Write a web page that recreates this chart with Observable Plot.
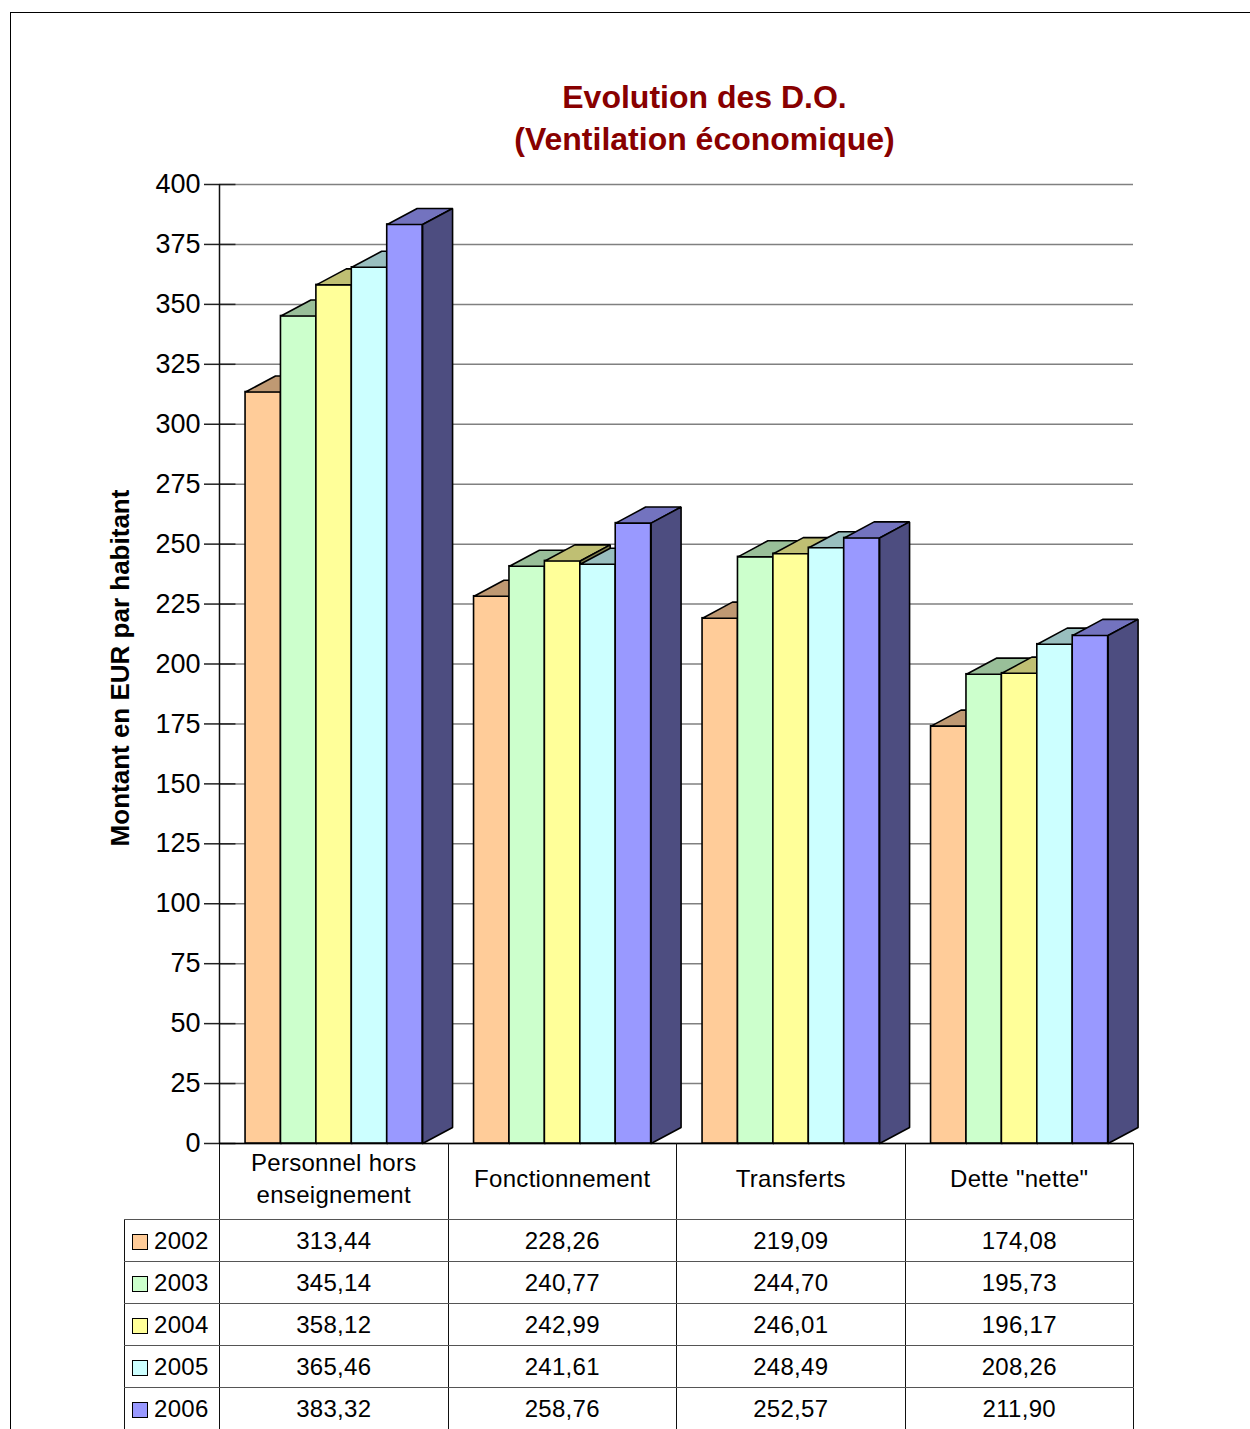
<!DOCTYPE html>
<html>
<head>
<meta charset="utf-8">
<script src="https://cdn.jsdelivr.net/npm/d3@7"></script>
<script src="https://cdn.jsdelivr.net/npm/@observablehq/plot@0.6"></script>
<style>
  body { margin: 0; background: #fff; font-family: "Liberation Sans", Arial, sans-serif; }
  #page { position: relative; width: 1250px; height: 1429px; overflow: hidden; background: #fff; }
  #border { position: absolute; left: 10px; top: 12px; width: 1250px; height: 1430px;
            border-left: 1.5px solid #000; border-top: 1.5px solid #000; }
  #chart { position: absolute; left: 0; top: 0; }
  #datatable { position: absolute; left: 124px; top: 1143px; border-collapse: collapse;
               table-layout: fixed; font-size: 24px; letter-spacing: 0.3px; color: #000; }
  #datatable td { padding: 0; text-align: center; vertical-align: middle; white-space: normal;
                  border-left: 1.5px solid #111; border-right: 1.5px solid #111;
                  border-top: 1.5px solid #555; border-bottom: 1.5px solid #555; }
  #datatable tr.head td { height: 70px; padding-bottom: 5px; line-height: 32px; border-top: 1.5px solid #000; }
  #datatable tr.head td.corner { border: none; }
  #datatable tr.row td { height: 40px; line-height: 28px; padding-top: 1px; }
  #datatable td.year { text-align: left; padding-left: 7px; }
  .swatch { display: inline-block; width: 14px; height: 14px; border: 1px solid #000;
            margin-right: 6px; vertical-align: -1px; }
</style>
</head>
<body>
<div id="page">
  <div id="border"></div>
  <div id="chart"></div>
  <table id="datatable"></table>
</div>
<script>
// Dépenses ordinaires par habitant (EUR), ventilation économique
const categories = ["Personnel hors enseignement", "Fonctionnement", "Transferts", "Dette \"nette\""];
const years = ["2002", "2003", "2004", "2005", "2006"];
const v2002 = [313.44, 228.26, 219.09, 174.08];
const v2003 = [345.14, 240.77, 244.70, 195.73];
const v2004 = [358.12, 242.99, 246.01, 196.17];
const v2005 = [365.46, 241.61, 248.49, 208.26];
const v2006 = [383.32, 258.76, 252.57, 211.90];
const yearColors = ["#FFCC99", "#CCFFCC", "#FFFF99", "#CCFFFF", "#9999FF"];
const yTicks = [0, 25, 50, 75, 100, 125, 150, 175, 200, 225, 250, 275, 300, 325, 350, 375, 400];
const title = "Evolution des D.O.\n(Ventilation économique)";
const yLabel = "Montant en EUR par habitant";

const series = [v2002, v2003, v2004, v2005, v2006];
const fmt = v => v.toFixed(2).replace(".", ",");

// Bar geometry in x units (one unit = one category column), with a fixed
// oblique projection for the 3D depth.
const inset = 0.114, step = 0.155;
const depth = {x: 0.131, y: 6.7};

function shade(c, k) {
  const r = d3.rgb(c);
  return d3.rgb(r.r * k, r.g * k, r.b * k).formatHex();
}

const bars = series.map((vals, j) => categories.map((cat, i) => {
  const x1 = i + inset + j * step;
  return {year: years[j], category: cat, value: vals[i], x1, x2: x1 + step};
}));

function topFace(d) {
  const {x1, x2, value: v} = d;
  return [[x1, v], [x2, v], [x2 + depth.x, v + depth.y], [x1 + depth.x, v + depth.y], [x1, v]]
    .map(([x, y]) => ({x, y, key: d.category}));
}
function sideFace(d) {
  const {x2, value: v} = d;
  return [[x2, 0], [x2 + depth.x, depth.y], [x2 + depth.x, v + depth.y], [x2, v], [x2, 0]]
    .map(([x, y]) => ({x, y, key: d.category}));
}

const barMarks = bars.flatMap((rows, j) => [
  Plot.rect(rows, {x1: "x1", x2: "x2", y1: 0, y2: "value", fill: yearColors[j], stroke: "#000", strokeWidth: 1.6}),
  Plot.line(rows.flatMap(topFace), {x: "x", y: "y", z: "key", fill: shade(yearColors[j], 0.75), stroke: "#000", strokeWidth: 1.6, strokeLinejoin: "miter"}),
  Plot.line(rows.flatMap(sideFace), {x: "x", y: "y", z: "key", fill: shade(yearColors[j], 0.5), stroke: "#000", strokeWidth: 1.6, strokeLinejoin: "miter"})
]);

const chart = Plot.plot({
  width: 1250,
  height: 1429,
  marginTop: 184,
  marginBottom: 286,
  marginLeft: 219,
  marginRight: 117,
  style: {fontFamily: "'Liberation Sans', Arial, sans-serif", color: "#000", background: "transparent"},
  x: {type: "linear", domain: [0, categories.length], axis: null},
  y: {domain: [0, 400], axis: null},
  marks: [
    Plot.ruleY(yTicks, {x1: 0, x2: categories.length, stroke: "#808080", strokeWidth: 1.5}),
    Plot.ruleY(yTicks, {x1: 0, x2: 0.072, stroke: "#222", strokeWidth: 1.5}),
    Plot.axisY({ticks: yTicks, tickSize: 15, tickPadding: 4, fontSize: 27, label: null, stroke: "#222", strokeWidth: 1.5, strokeOpacity: 1}),
    Plot.ruleX([0], {stroke: "#111", strokeWidth: 1.5}),
    Plot.ruleY([0], {x1: 0, x2: categories.length, stroke: "#000", strokeWidth: 1.5}),
    ...barMarks,
    Plot.text([title], {frameAnchor: "top", dx: 28, dy: -69, lineAnchor: "middle", lineHeight: 1.32,
      fontSize: 32, fontWeight: "bold", fill: "#880000"}),
    Plot.text([yLabel], {frameAnchor: "left", dx: -99, dy: 4, rotate: -90, textAnchor: "middle",
      lineAnchor: "middle", fontSize: 26, fontWeight: "bold", fill: "#000"})
  ]
});
document.getElementById("chart").append(chart);

// Data table with the legend in its first column
const table = d3.select("#datatable");
const cols = table.append("colgroup");
cols.append("col").style("width", "95px");
categories.forEach(() => cols.append("col").style("width", "228.5px"));

const head = table.append("tr").attr("class", "head");
head.append("td").attr("class", "corner");
categories.forEach(c => head.append("td").text(c));

series.forEach((vals, j) => {
  const tr = table.append("tr").attr("class", "row");
  const yc = tr.append("td").attr("class", "year");
  yc.append("span").attr("class", "swatch").style("background", yearColors[j]);
  yc.append("span").text(years[j]);
  vals.forEach(v => tr.append("td").text(fmt(v)));
});
</script>
</body>
</html>
